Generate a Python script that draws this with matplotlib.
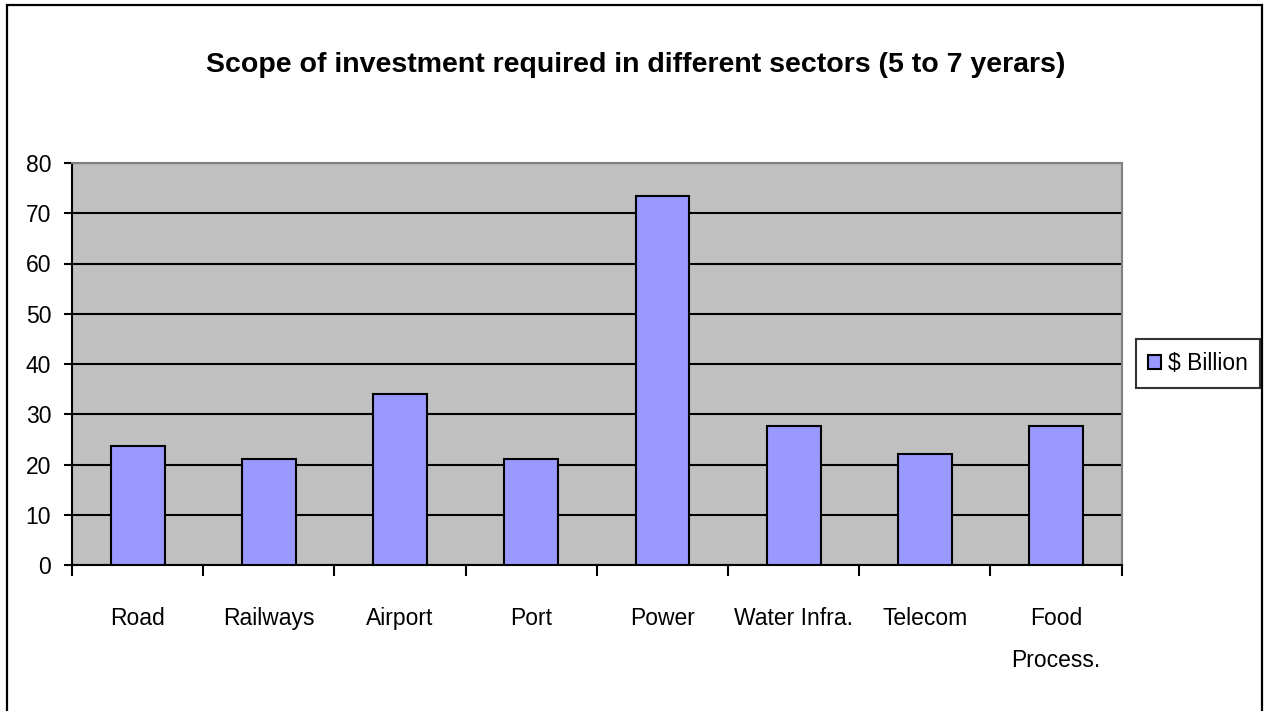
import matplotlib
matplotlib.use("Agg")
import matplotlib.pyplot as plt
from matplotlib import font_manager
from matplotlib.patches import Rectangle

categories = ["Road", "Railways", "Airport", "Port", "Power", "Water Infra.", "Telecom", "Food\nProcess."]
values = [23.6, 21.1, 34.0, 21.1, 73.5, 27.7, 22.1, 27.7]
series_name = "$ Billion"
title = "Scope of investment required in different sectors (5 to 7 yerars)"
yticks = [0, 10, 20, 30, 40, 50, 60, 70, 80]

names = {f.name for f in font_manager.fontManager.ttflist}
if "Liberation Sans Narrow" in names:
    fam = ["Liberation Sans Narrow", "DejaVu Sans"]
    fs_tick, fs_title = 21, 25
else:
    fam = ["Liberation Sans", "DejaVu Sans"]
    fs_tick, fs_title = 16.5, 20.5
plt.rcParams['font.family'] = fam

W, H = 1269, 711
fig = plt.figure(figsize=(W / 100, H / 100), dpi=100)
fig.patch.set_facecolor("white")

# outer chart border
fig.patches.append(Rectangle((7 / W, -0.05), (1262 - 7) / W, 1 - 5 / H + 0.05,
                             transform=fig.transFigure, fill=False,
                             edgecolor="black", linewidth=1.6, zorder=0))

ax = fig.add_axes([72 / W, (H - 565) / H, (1121.7 - 72) / W, (565 - 163) / H])
ax.set_facecolor("#C0C0C0")

x = list(range(len(categories)))
ax.bar(x, values, width=0.41, color="#9999FF", edgecolor="black", linewidth=1.5,
       label=series_name, zorder=3)

ax.set_xlim(-0.5, len(categories) - 0.5)
ax.set_ylim(0, 80)
ax.set_yticks(yticks)
ax.set_yticklabels([str(v) for v in yticks], fontsize=fs_tick)
ax.yaxis.grid(True, color="black", linewidth=1.5, zorder=1)
ax.set_axisbelow(True)

ax.set_xticks(x)
ax.set_xticklabels(categories, fontsize=fs_tick, linespacing=2.05)
ax.set_xticks([i - 0.5 for i in range(len(categories) + 1)], minor=True)
ax.tick_params(axis="x", which="major", length=0, pad=30)
ax.tick_params(axis="x", which="minor", length=8, width=1.5, direction="out")
ax.tick_params(axis="y", which="major", length=6, width=1.5, direction="out", pad=9)

for s in ["top", "right"]:
    ax.spines[s].set_color("#808080")
    ax.spines[s].set_linewidth(1.5)
for s in ["left", "bottom"]:
    ax.spines[s].set_color("black")
    ax.spines[s].set_linewidth(1.5)

fig.text(636 / W, 1 - 65 / H, title, ha="center", va="center",
         fontsize=fs_title, fontweight="bold")

leg = fig.legend(loc="center", bbox_to_anchor=(1198 / W, 1 - 363.5 / H),
                 frameon=True, fancybox=False, fontsize=fs_tick,
                 handlelength=0.55, handleheight=0.55, handletextpad=0.3,
                 borderpad=0.55, borderaxespad=0)
leg.get_frame().set_edgecolor("black")
leg.get_frame().set_linewidth(1.5)

fig.savefig("out.png", dpi=100)
